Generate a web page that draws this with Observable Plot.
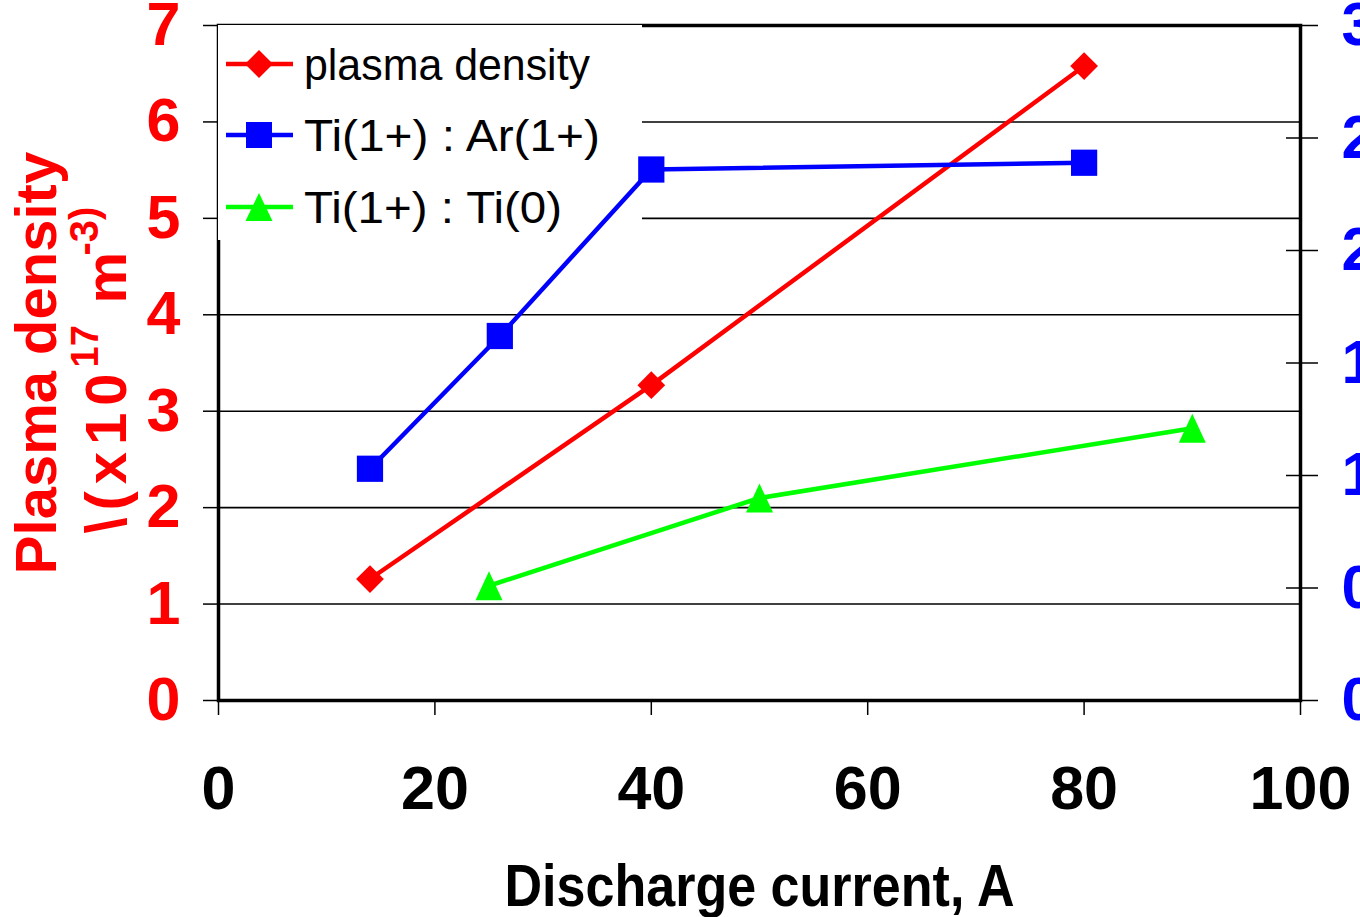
<!DOCTYPE html>
<html><head><meta charset="utf-8">
<script src="https://cdn.jsdelivr.net/npm/d3@7"></script>
<script src="https://cdn.jsdelivr.net/npm/@observablehq/plot@0.6"></script>
<style>
html,body{margin:0;padding:0;background:#fff;overflow:hidden;}
#wrap{position:relative;width:1360px;height:917px;overflow:hidden;}
</style></head><body>
<div id="wrap"><div id="chart"></div></div>
<script>
// ---- data ----
const densityCurrent = [14, 40, 80];
const densityValues  = [1.26, 3.27, 6.58];       // left axis, x10^17 m^-3
const tiArCurrent    = [14, 26, 40, 80];
const tiArValues     = [1.03, 1.62, 2.36, 2.39];  // right axis
const tiTiCurrent    = [25, 50, 90];
const tiTiValues     = [0.51, 0.90, 1.21];        // right axis
const xTicks     = [0, 20, 40, 60, 80, 100];
const leftTicks  = [0, 1, 2, 3, 4, 5, 6, 7];
const rightTicks = [0, 0.5, 1, 1.5, 2, 2.5, 3];
const seriesNames  = ["plasma density", "Ti(1+) : Ar(1+)", "Ti(1+) : Ti(0)"];
const seriesColors = ["#ff0000", "#0000ff", "#00ff00"];
const xTitle = "Discharge current, A";
const yTitle1 = "Plasma density";
const yTitle2 = ["\\(x10", "17", "m", "-3)"];

const leftMax = leftTicks[leftTicks.length - 1];
const rightMax = rightTicks[rightTicks.length - 1];
const k = leftMax / rightMax; // right-axis units -> left-axis units

const density = densityCurrent.map((x, i) => ({x, y: densityValues[i]}));
const tiAr = tiArCurrent.map((x, i) => ({x, y: tiArValues[i] * k}));
const tiTi = tiTiCurrent.map((x, i) => ({x, y: tiTiValues[i] * k}));

const tallTriangle = {
  draw(ctx, size) {
    const r = Math.sqrt(size / Math.PI);
    const w = r, h = r * 1.07;
    ctx.moveTo(0, -h); ctx.lineTo(w, h); ctx.lineTo(-w, h); ctx.closePath();
  }
};

const bold = {fontWeight: "bold"};
const LW = 4.5;
const plot = Plot.plot({
  width: 1360, height: 917,
  marginLeft: 218, marginRight: 60, marginTop: 25, marginBottom: 217,
  x: {domain: [0, 100]},
  y: {domain: [0, leftMax]},
  style: {fontFamily: "'Liberation Sans', Arial, sans-serif", background: "white"},
  marks: [
    Plot.gridY(leftTicks, {stroke: "black", strokeOpacity: 1, strokeWidth: 1.6}),
    Plot.frame({stroke: "black", strokeWidth: 3.5}),
    Plot.axisX(xTicks, {anchor: "bottom", tickSize: 15, tickPadding: 50, strokeWidth: 1.5, stroke: "black", fill: "black",
      fontSize: 61, ...bold, label: null, tickFormat: d => String(d)}),
    Plot.axisY(leftTicks, {anchor: "left", tickSize: 15, tickPadding: 23, strokeWidth: 1.5, stroke: "black", fill: seriesColors[0],
      fontSize: 61, ...bold, label: null, tickFormat: d => String(d)}),
    Plot.axisY(rightTicks.map(v => v * k), {anchor: "right", tickSize: 17, tickPadding: 24, strokeWidth: 1.5, stroke: "black", fill: seriesColors[1],
      fontSize: 61, ...bold, label: null, tickFormat: d => String(Math.round(d / k * 10) / 10)}),
    Plot.axisY(rightTicks.map(v => v * k), {anchor: "right", tickSize: 15, dx: -15, strokeWidth: 1.5, stroke: "black",
      label: null, tickFormat: () => ""}),
    Plot.line(density, {x: "x", y: "y", stroke: seriesColors[0], strokeWidth: LW}),
    Plot.line(tiAr, {x: "x", y: "y", stroke: seriesColors[1], strokeWidth: LW}),
    Plot.line(tiTi, {x: "x", y: "y", stroke: seriesColors[2], strokeWidth: LW}),
    Plot.dot(density, {x: "x", y: "y", symbol: "diamond2", r: 12.5, fill: seriesColors[0], stroke: "none"}),
    Plot.dot(tiAr, {x: "x", y: "y", symbol: "square", r: 14.8, fill: seriesColors[1], stroke: "none"}),
    Plot.dot(tiTi, {x: "x", y: "y", symbol: tallTriangle, r: 13.5, fill: seriesColors[2], stroke: "none"}),
    Plot.text([xTitle], {text: d => d, frameAnchor: "bottom", dy: 205, lineAnchor: "bottom", fontSize: 60, ...bold, fill: "black"}),
    Plot.text([yTitle1], {text: d => d, frameAnchor: "left", rotate: -90, dx: -163, textAnchor: "middle", lineAnchor: "bottom", fontSize: 58, ...bold, fill: seriesColors[0]}),
    Plot.text([yTitle2[0]], {text: d => d, frameAnchor: "left", rotate: -90, dx: -93, dy: 170.5, textAnchor: "start", lineAnchor: "bottom", fontSize: 58, ...bold, fill: seriesColors[0]}),
    Plot.text([yTitle2[1]], {text: d => d, frameAnchor: "left", rotate: -90, dx: -121, dy: 4.5, textAnchor: "start", lineAnchor: "bottom", fontSize: 38, ...bold, fill: seriesColors[0]}),
    Plot.text([yTitle2[2]], {text: d => d, frameAnchor: "left", rotate: -90, dx: -93, dy: -59.5, textAnchor: "start", lineAnchor: "bottom", fontSize: 58, ...bold, fill: seriesColors[0]}),
    Plot.text([yTitle2[3]], {text: d => d, frameAnchor: "left", rotate: -90, dx: -121, dy: -107.5, textAnchor: "start", lineAnchor: "bottom", fontSize: 40, ...bold, fill: seriesColors[0]})
  ]
});
document.getElementById("chart").appendChild(plot);

// condensed look for the x title and spaced first chunk of the y title
d3.select(plot).selectAll("text").each(function() {
  const t = this.textContent;
  if (t === xTitle) d3.select(this).attr("textLength", 510).attr("lengthAdjust", "spacingAndGlyphs");
  if (t === yTitle2[0]) d3.select(this).attr("textLength", 160).attr("lengthAdjust", "spacing");
});

// ---- legend: white box over grid/frame, under the data lines ----
const lg = d3.create("svg:g").attr("transform", "translate(218,25)")
  .attr("text-anchor", "start").attr("font-weight", "normal");
lg.append("rect").attr("x", 0).attr("y", 0).attr("width", 424).attr("height", 215).attr("fill", "white");
const rowY = [39, 110, 182];
const rowLen = [286, 296, 258];
seriesNames.forEach((name, i) => {
  const g = lg.append("g").attr("transform", `translate(0,${rowY[i]})`);
  g.append("line").attr("x1", 8).attr("x2", 75).attr("y1", 0).attr("y2", 0)
    .attr("stroke", seriesColors[i]).attr("stroke-width", LW);
  const cx = 41;
  if (i === 0) g.append("path").attr("d", `M${cx},-14L${cx+14},0L${cx},14L${cx-14},0Z`).attr("fill", seriesColors[i]);
  if (i === 1) g.append("rect").attr("x", cx - 13).attr("y", -13).attr("width", 26).attr("height", 26).attr("fill", seriesColors[i]);
  if (i === 2) g.append("path").attr("d", `M${cx},-14L${cx+13.5},14L${cx-13.5},14Z`).attr("fill", seriesColors[i]);
  g.append("text").attr("x", 86).attr("y", 16).attr("text-anchor", "start").text(name)
    .attr("font-family", "'Liberation Sans', Arial, sans-serif").attr("font-size", 44).attr("fill", "black")
    .attr("textLength", rowLen[i]).attr("lengthAdjust", "spacingAndGlyphs");
});
const firstLine = plot.querySelector('g[aria-label="line"]');
if (firstLine) firstLine.parentNode.insertBefore(lg.node(), firstLine);
else plot.appendChild(lg.node());
</script>
</body></html>
